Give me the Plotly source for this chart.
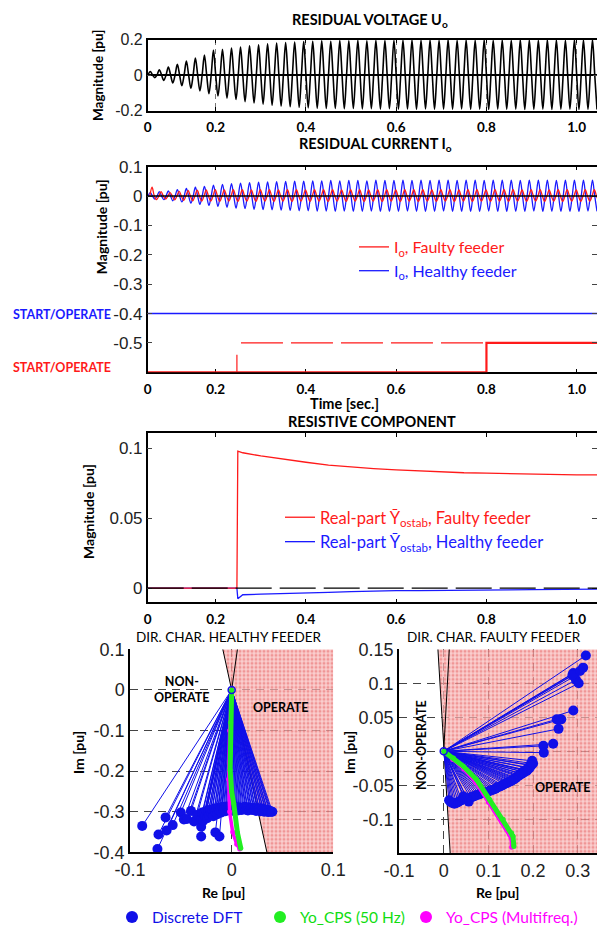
import plotly.graph_objects as go

W, H = 597, 927


def fx(p):
    return p / W


def fy(p):
    return 1 - p / H


# ------------------------------------------------------------------ data
T_START = 0.0493          # left edge of the time axes (labelled "0")
T_END = 1.045
TIME_TICKS = [T_START, 0.2, 0.4, 0.6, 0.8, 1.0]
TIME_LABELS = ["0", "0.2", "0.4", "0.6", "0.8", "1.0"]
HALF = 0.01               # half period of 50 Hz

P1_Y_TICKS = [-0.2, 0, 0.2]
P1_Y_LABELS = ["-0.2", "0", "0.2"]
P2_Y_TICKS = [-0.5, -0.4, -0.3, -0.2, -0.1, 0, 0.1]
P2_Y_LABELS = ["-0.5", "-0.4", "-0.3", "-0.2", "-0.1", "0", "0.1"]
P3_Y_TICKS = [0, 0.05, 0.1]
P3_Y_LABELS = ["0", "0.05", "0.1"]
H_X_TICKS = [-0.1, 0, 0.1]
H_X_LABELS = ["-0.1", "0", "0.1"]
H_Y_TICKS = [-0.4, -0.3, -0.2, -0.1, 0, 0.1]
H_Y_LABELS = ["-0.4", "-0.3", "-0.2", "-0.1", "0", "0.1"]
F_X_TICKS = [-0.1, 0, 0.1, 0.2, 0.3]
F_X_LABELS = ["-0.1", "0", "0.1", "0.2", "0.3"]
F_Y_TICKS = [-0.1, -0.05, 0, 0.05, 0.1, 0.15]
F_Y_LABELS = ["-0.1", "-0.05", "0", "0.05", "0.1", "0.15"]

# Residual voltage Uo: value of every positive / negative half-cycle peak
U0_T0 = 0.050
U0_POS = [0.020, 0.030, 0.045, 0.060, 0.078, 0.095, 0.112, 0.140, 0.145, 0.152,
          0.158, 0.165, 0.170, 0.176, 0.180, 0.183, 0.186, 0.188, 0.190, 0.192,
          0.190, 0.194, 0.192, 0.195, 0.193, 0.196, 0.194, 0.196, 0.195, 0.197,
          0.195, 0.197, 0.196, 0.198, 0.196, 0.197, 0.195, 0.198, 0.196, 0.197,
          0.196, 0.198, 0.197, 0.196, 0.198, 0.197, 0.196, 0.198, 0.197, 0.198]
U0_NEG = [-0.015, -0.030, -0.045, -0.060, -0.075, -0.090, -0.105, -0.118, -0.130, -0.138,
          -0.150, -0.158, -0.164, -0.170, -0.175, -0.179, -0.182, -0.185, -0.187, -0.189,
          -0.188, -0.190, -0.189, -0.191, -0.190, -0.192, -0.190, -0.192, -0.191, -0.193,
          -0.191, -0.193, -0.192, -0.193, -0.191, -0.193, -0.192, -0.194, -0.192, -0.193,
          -0.192, -0.194, -0.193, -0.192, -0.194, -0.193, -0.192, -0.194, -0.193, -0.194]

# Residual current Io, healthy feeder (blue) and faulty feeder (red)
IH_T0 = 0.050
IH_POS = [0.012, 0.015, 0.018, 0.022, 0.026, 0.030, 0.033, 0.037, 0.040, 0.042,
          0.044, 0.046, 0.047, 0.048, 0.049, 0.050, 0.051, 0.051, 0.052, 0.052,
          0.053, 0.052, 0.053, 0.053, 0.052, 0.054, 0.053, 0.053, 0.054, 0.053,
          0.054, 0.053, 0.054, 0.054, 0.053, 0.054, 0.054, 0.053, 0.054, 0.054,
          0.054, 0.053, 0.054, 0.054, 0.054, 0.053, 0.054, 0.054, 0.054, 0.054]
IH_NEG = [-0.010, -0.012, -0.016, -0.020, -0.024, -0.028, -0.032, -0.035, -0.038, -0.041,
          -0.043, -0.045, -0.046, -0.047, -0.048, -0.049, -0.050, -0.050, -0.051, -0.051,
          -0.052, -0.051, -0.052, -0.052, -0.051, -0.052, -0.052, -0.052, -0.051, -0.052,
          -0.052, -0.052, -0.051, -0.052, -0.052, -0.052, -0.052, -0.051, -0.052, -0.052,
          -0.052, -0.052, -0.051, -0.052, -0.052, -0.052, -0.052, -0.052, -0.051, -0.052]
IF_T0 = 0.054
IF_POS = [0.030, 0.015, 0.012, 0.016, 0.019, 0.020, 0.021, 0.022, 0.021, 0.022,
          0.022, 0.021, 0.022, 0.022, 0.021, 0.022, 0.022, 0.021, 0.022, 0.022,
          0.022, 0.021, 0.022, 0.022, 0.021, 0.022, 0.022, 0.021, 0.022, 0.022,
          0.022, 0.021, 0.022, 0.022, 0.021, 0.022, 0.022, 0.021, 0.022, 0.022,
          0.022, 0.021, 0.022, 0.022, 0.021, 0.022, 0.022, 0.021, 0.022, 0.022]
IF_NEG = [-0.012, -0.010, -0.013, -0.015, -0.016, -0.017, -0.017, -0.018, -0.017, -0.018,
          -0.017, -0.018, -0.017, -0.018, -0.017, -0.018, -0.017, -0.018, -0.017, -0.018,
          -0.017, -0.018, -0.017, -0.018, -0.017, -0.018, -0.017, -0.018, -0.017, -0.018,
          -0.017, -0.018, -0.017, -0.018, -0.017, -0.018, -0.017, -0.018, -0.017, -0.018,
          -0.017, -0.018, -0.017, -0.018, -0.017, -0.018, -0.017, -0.018, -0.017, -0.018]

# START / OPERATE signals (drawn at offset levels)
SO_H_T = [T_START, T_END]
SO_H_Y = [-0.4, -0.4]
OP_F_T = [T_START, 0.80, 0.80, T_END]
OP_F_Y = [-0.60, -0.60, -0.50, -0.50]
ST_F_T = [0.247, 0.247, None, 0.256, 0.80]
ST_F_Y = [-0.60, -0.54, None, -0.50, -0.50]

# Resistive component (real part of Yo_stab)
RES_T = [T_START, 0.247, 0.249, 0.26, 0.30, 0.35, 0.40, 0.45, 0.50, 0.55, 0.60,
         0.65, 0.70, 0.75, 0.80, 0.85, 0.90, 0.95, 1.00, T_END]
RES_F = [0.0, 0.0, 0.098, 0.0968, 0.0945, 0.092, 0.090, 0.088, 0.0865, 0.0855, 0.0846,
         0.0838, 0.0830, 0.0825, 0.0822, 0.0818, 0.0813, 0.0810, 0.0810, 0.0810]
RES_H = [0.0, 0.0, -0.0076, -0.0047, -0.0043, -0.0040, -0.0036, -0.0030, -0.0025, -0.0020,
         -0.0017, -0.0017, -0.0017, -0.0016, -0.0016, -0.0012, -0.0010, -0.0008, -0.0007, -0.0007]

# Directional characteristic, healthy feeder: discrete DFT end points
DFT_H_RE = [-0.088, -0.072, -0.073, -0.065, -0.064, -0.058, -0.050, -0.047, -0.044, -0.040,
            -0.037, -0.034, -0.030, -0.030, -0.016, -0.012,
            -0.030, -0.029, -0.028, -0.027, -0.026, -0.025, -0.024, -0.023, -0.022, -0.021,
            -0.020, -0.019, -0.018, -0.017, -0.016, -0.015, -0.014, -0.013, -0.012, -0.011,
            -0.010, -0.009, -0.008, -0.007, -0.006, -0.005, -0.004, -0.003, -0.002, -0.001,
            0.000, 0.001, 0.002, 0.003, 0.004, 0.005, 0.006, 0.007, 0.008, 0.009,
            0.010, 0.011, 0.012, 0.013, 0.014, 0.015, 0.016, 0.017, 0.018, 0.019,
            0.020, 0.021, 0.022, 0.023, 0.024, 0.025, 0.026, 0.027, 0.028, 0.029,
            0.030, 0.031, 0.032, 0.033, 0.034, 0.035, 0.036, 0.037, 0.038, 0.039, 0.040]
DFT_H_IM = [-0.335, -0.356, -0.392, -0.314, -0.346, -0.333, -0.302, -0.319, -0.318, -0.298,
            -0.324, -0.308, -0.337, -0.361, -0.351, -0.361,
            -0.318, -0.302, -0.322, -0.306, -0.312, -0.298, -0.316, -0.300, -0.309, -0.295,
            -0.303, -0.296, -0.311, -0.292, -0.300, -0.294, -0.306, -0.290, -0.298, -0.293,
            -0.302, -0.288, -0.296, -0.291, -0.299, -0.287, -0.294, -0.290, -0.297, -0.289,
            -0.295, -0.291, -0.298, -0.288, -0.294, -0.290, -0.297, -0.289, -0.295, -0.291,
            -0.296, -0.290, -0.293, -0.288, -0.295, -0.291, -0.297, -0.289, -0.294, -0.292,
            -0.296, -0.290, -0.295, -0.292, -0.298, -0.291, -0.296, -0.293, -0.299, -0.292,
            -0.297, -0.294, -0.300, -0.295, -0.298, -0.296, -0.301, -0.297, -0.299, -0.300, -0.300]
CPS50_H_RE = [0.000, -0.001, -0.0015, 0.000, 0.002, 0.0057, 0.009]
CPS50_H_IM = [0.000, -0.080, -0.197, -0.250, -0.279, -0.352, -0.390]
CPSMF_H_RE = [0.000, -0.002, -0.003, -0.002, 0.001, 0.005, 0.008]
CPSMF_H_IM = [0.000, -0.100, -0.220, -0.300, -0.350, -0.380, -0.392]

# Directional characteristic, faulty feeder
DFT_F_RE = [0.318, 0.312, 0.290, 0.296, 0.302, 0.292, 0.288, 0.305, 0.290, 0.253, 0.263,
            0.257, 0.245, 0.223, 0.224,
            0.200, 0.198, 0.196, 0.194, 0.192, 0.190, 0.187, 0.185, 0.182, 0.180,
            0.177, 0.175, 0.172, 0.170, 0.167, 0.165, 0.162, 0.160, 0.157, 0.155,
            0.152, 0.150, 0.146, 0.143, 0.140, 0.136, 0.132, 0.128, 0.124, 0.120,
            0.116, 0.112, 0.108, 0.104, 0.100, 0.096, 0.092, 0.088, 0.084, 0.080,
            0.076, 0.072, 0.068, 0.064, 0.060, 0.056, 0.052, 0.048, 0.044, 0.040,
            0.036, 0.032, 0.028, 0.024, 0.020, 0.016, 0.012]
DFT_F_IM = [0.141, 0.123, 0.115, 0.105, 0.100, 0.110, 0.112, 0.118, 0.060, 0.047, 0.047,
            0.033, 0.011, 0.008, -0.002,
            -0.018, -0.014, -0.021, -0.020, -0.025, -0.024, -0.028, -0.029, -0.028, -0.031,
            -0.030, -0.033, -0.033, -0.035, -0.036, -0.037, -0.039, -0.040, -0.041, -0.042,
            -0.043, -0.044, -0.045, -0.046, -0.047, -0.048, -0.050, -0.051, -0.052, -0.053,
            -0.055, -0.056, -0.057, -0.058, -0.059, -0.060, -0.061, -0.061, -0.062, -0.063,
            -0.064, -0.065, -0.066, -0.067, -0.068, -0.074, -0.069, -0.070, -0.066, -0.072,
            -0.073, -0.075, -0.076, -0.077, -0.076, -0.075, -0.072]
CPS50_F_RE = [0.000, 0.022, 0.044, 0.074, 0.103, 0.133, 0.152, 0.155, 0.157]
CPS50_F_IM = [0.000, -0.010, -0.022, -0.042, -0.071, -0.100, -0.120, -0.125, -0.140]
CPSMF_F_RE = [0.000, 0.020, 0.045, 0.072, 0.100, 0.130, 0.148, 0.151, 0.152]
CPSMF_F_IM = [0.000, -0.012, -0.026, -0.046, -0.075, -0.104, -0.123, -0.128, -0.141]

# Operate-sector boundaries (end points of the characteristic lines)
H_RANGE_X = [-0.1, 0.1]
H_RANGE_Y = [-0.4, 0.1]
F_RANGE_X = [-0.1, 0.343]
F_RANGE_Y = [-0.15, 0.15]
H_BND1 = ([-0.0087, 0.0347], [0.1, -0.4])
H_BND2 = ([0.0057, 0.0], [0.1, 0.0])
F_BND1 = ([-0.0129, 0.0145], [0.15, -0.15])
F_BND2 = ([0.0125, 0.0], [0.15, 0.0])

# ------------------------------------------------------------------ helpers
RED = "#ff1a1a"
BLUE = "#1a1aff"
GREEN = "#22ee22"
MAGENTA = "#ff00ff"
DFT_BLUE = "#1010e8"


def wave(t0, pos, neg):
    t, v = [], []
    for k, (p, n) in enumerate(zip(pos, neg)):
        base = t0 + 2 * HALF * k
        t += [base, base + HALF / 2, base + HALF, base + 1.5 * HALF]
        v += [0.0, p, 0.0, n]
    return t, v


def fan(re, im):
    x, y = [], []
    for a, b in zip(re, im):
        x += [0.0, a, None]
        y += [0.0, b, None]
    return x, y


fig = go.Figure()

# ---- panel 1: residual voltage
ut, uv = wave(U0_T0, U0_POS, U0_NEG)
fig.add_trace(go.Scatter(x=ut, y=uv, mode="lines", line=dict(color="black", width=1.6, shape="spline"),
                         xaxis="x", yaxis="y", showlegend=False, hoverinfo="skip"))

# ---- panel 2: residual currents + start/operate
ht, hv = wave(IH_T0, IH_POS, IH_NEG)
ft, fv = wave(IF_T0, IF_POS, IF_NEG)
fig.add_trace(go.Scatter(x=SO_H_T, y=SO_H_Y, mode="lines", line=dict(color=BLUE, width=1.5),
                         xaxis="x2", yaxis="y2", showlegend=False, hoverinfo="skip"))
fig.add_trace(go.Scatter(x=ST_F_T, y=ST_F_Y, mode="lines", line=dict(color=RED, width=1.2, dash="42px,8px"),
                         xaxis="x2", yaxis="y2", showlegend=False, hoverinfo="skip"))
fig.add_trace(go.Scatter(x=OP_F_T, y=OP_F_Y, mode="lines", line=dict(color=RED, width=2.2),
                         xaxis="x2", yaxis="y2", showlegend=False, hoverinfo="skip", cliponaxis=False))
fig.add_trace(go.Scatter(x=ht, y=hv, mode="lines", line=dict(color=BLUE, width=1.3, shape="spline"),
                         xaxis="x2", yaxis="y2", legend="legend2", legendrank=2,
                         name=f'<span style="color:{BLUE}">I<sub>o</sub>, Healthy feeder</span>'))
fig.add_trace(go.Scatter(x=ft, y=fv, mode="lines", line=dict(color=RED, width=1.3, shape="spline"),
                         xaxis="x2", yaxis="y2", legend="legend2", legendrank=1,
                         name=f'<span style="color:{RED}">I<sub>o</sub>, Faulty feeder</span>'))

# ---- panel 3: resistive component
fig.add_trace(go.Scatter(x=RES_T, y=RES_H, mode="lines", line=dict(color=BLUE, width=1.3),
                         xaxis="x3", yaxis="y3", legend="legend3", legendrank=2,
                         name=f'<span style="color:{BLUE}">Real-part \u0232<sub>ostab</sub>, Healthy feeder</span>'))
fig.add_trace(go.Scatter(x=RES_T, y=RES_F, mode="lines", line=dict(color=RED, width=1.3),
                         xaxis="x3", yaxis="y3", legend="legend3", legendrank=1,
                         name=f'<span style="color:{RED}">Real-part \u0232<sub>ostab</sub>, Faulty feeder</span>'))


# ---- bottom panels
def sector(xa, ya, bnd1, bnd2, rx, ry):
    px = [bnd1[0][0], rx[1], rx[1], bnd1[0][1]]
    py = [bnd1[1][0], ry[1], ry[0], bnd1[1][1]]
    fig.add_trace(go.Scatter(x=px, y=py, fill="toself", mode="none",
                             fillcolor="rgba(244,160,160,0.6)",
                             fillpattern=dict(shape=".", fgcolor="rgba(226,64,64,0.8)",
                                              bgcolor="rgba(248,186,186,0.7)", size=4, solidity=0.45),
                             xaxis=xa, yaxis=ya, showlegend=False, hoverinfo="skip"))
    for b in (bnd1, bnd2):
        fig.add_trace(go.Scatter(x=b[0], y=b[1], mode="lines", line=dict(color="black", width=1),
                                 xaxis=xa, yaxis=ya, showlegend=False, hoverinfo="skip"))


def dir_char(xa, ya, dre, dim, g_re, g_im, m_re, m_im, legend):
    lx, ly = fan(dre, dim)
    fig.add_trace(go.Scatter(x=lx, y=ly, mode="lines", line=dict(color=DFT_BLUE, width=1),
                             xaxis=xa, yaxis=ya, showlegend=False, hoverinfo="skip"))
    fig.add_trace(go.Scatter(x=dre, y=dim, mode="markers", marker=dict(color=DFT_BLUE, size=10),
                             xaxis=xa, yaxis=ya, showlegend=legend, legend="legend",
                             name=f'<span style="color:{DFT_BLUE}">Discrete DFT</span>'))
    fig.add_trace(go.Scatter(x=m_re, y=m_im, mode="lines", line=dict(color=MAGENTA, width=3.5),
                             xaxis=xa, yaxis=ya, showlegend=False, hoverinfo="skip"))
    fig.add_trace(go.Scatter(x=m_re, y=m_im, mode="markers", marker=dict(color=MAGENTA, size=5),
                             xaxis=xa, yaxis=ya, showlegend=legend, legend="legend5",
                             name=f'<span style="color:{MAGENTA}">Yo_CPS (Multifreq.)</span>'))
    fig.add_trace(go.Scatter(x=g_re, y=g_im, mode="lines", line=dict(color=GREEN, width=5),
                             xaxis=xa, yaxis=ya, showlegend=False, hoverinfo="skip"))
    fig.add_trace(go.Scatter(x=g_re, y=g_im, mode="markers", marker=dict(color=GREEN, size=5),
                             xaxis=xa, yaxis=ya, showlegend=legend, legend="legend4",
                             name='<span style="color:#11dd11">Yo_CPS (50 Hz)</span>'))
    fig.add_trace(go.Scatter(x=[0], y=[0], mode="markers",
                             marker=dict(color="rgba(0,0,0,0)", size=7, line=dict(color=DFT_BLUE, width=1.5)),
                             xaxis=xa, yaxis=ya, showlegend=False, hoverinfo="skip"))


sector("x4", "y4", H_BND1, H_BND2, H_RANGE_X, H_RANGE_Y)
dir_char("x4", "y4", DFT_H_RE, DFT_H_IM, CPS50_H_RE, CPS50_H_IM, CPSMF_H_RE, CPSMF_H_IM, True)
sector("x5", "y5", F_BND1, F_BND2, F_RANGE_X, F_RANGE_Y)
dir_char("x5", "y5", DFT_F_RE, DFT_F_IM, CPS50_F_RE, CPS50_F_IM, CPSMF_F_RE, CPSMF_F_IM, False)

# ------------------------------------------------------------------ axes
NUM_FONT = "Liberation Sans, Arial, sans-serif"
TICK_NUM = dict(family=NUM_FONT, size=17, color="#222")
TICK_BOLD = dict(family="Lato", size=13.5, color="black", weight="bold")


def time_x(dom_anchor, standoff):
    return dict(domain=[fx(147.7), 1.0], range=[T_START, T_END], anchor=dom_anchor,
                tickvals=TIME_TICKS, ticktext=TIME_LABELS, ticks="inside", ticklen=4,
                tickcolor="black", showline=True, linecolor="black", linewidth=1.5,
                mirror="ticks", tickfont=TICK_BOLD, zeroline=False, showgrid=False,
                ticklabelstandoff=standoff)


def dir_axis(dom, rng, vals, labels, anchor):
    return dict(domain=dom, range=rng, tickvals=vals, ticktext=labels, anchor=anchor, showline=True,
                linecolor="black", linewidth=1.5, ticks="", zeroline=False, showgrid=True,
                gridcolor="#444", griddash="8px,6px", gridwidth=1.2,
                tickfont=dict(family=NUM_FONT, size=18, color="#222"))


LEG = dict(bgcolor="rgba(0,0,0,0)", font=dict(family="Lato", size=15.5), orientation="h",
           itemsizing="constant", xanchor="left", yanchor="middle", y=fy(917.5))

fig.update_layout(
    width=W, height=H, margin=dict(l=0, r=0, t=0, b=0, autoexpand=False),
    paper_bgcolor="white", plot_bgcolor="white",
    xaxis=dict(time_x("y", 4), showgrid=True, gridcolor="#777", griddash="5px,4px", gridwidth=1),
    yaxis=dict(domain=[fy(110.5), fy(39.5)], range=[-0.2, 0.2], tickvals=P1_Y_TICKS, ticktext=P1_Y_LABELS,
               anchor="x", ticks="inside", ticklen=4, showline=True, linecolor="black", linewidth=1.5,
               mirror="ticks", zeroline=True, zerolinecolor="black", zerolinewidth=1.5, showgrid=False,
               tickfont=dict(family=NUM_FONT, size=16, color="#222")),
    xaxis2=dict(time_x("y2", 4), layer="below traces"),
    yaxis2=dict(domain=[fy(372.3), fy(166.7)], range=[-0.6, 0.1], tickvals=P2_Y_TICKS, ticktext=P2_Y_LABELS,
                anchor="x2", ticks="inside", ticklen=5, showline=True, linecolor="black", linewidth=1.5,
                mirror="ticks", zeroline=False, showgrid=False, tickfont=TICK_NUM),
    xaxis3=time_x("y3", 4),
    yaxis3=dict(domain=[fy(602.3), fy(433.3)], range=[-0.0101, 0.1107], tickvals=P3_Y_TICKS,
                ticktext=P3_Y_LABELS, anchor="x3", ticks="inside", ticklen=5, showline=True,
                linecolor="black", linewidth=1.5, mirror="ticks", zeroline=False, showgrid=False,
                tickfont=TICK_NUM),
    xaxis4=dir_axis([fx(130), fx(333.3)], H_RANGE_X, H_X_TICKS, H_X_LABELS, "y4"),
    yaxis4=dir_axis([fy(852.3), fy(649.3)], H_RANGE_Y, H_Y_TICKS, H_Y_LABELS, "x4"),
    xaxis5=dir_axis([fx(399), 1.0], F_RANGE_X, F_X_TICKS, F_X_LABELS, "y5"),
    yaxis5=dir_axis([fy(853.3), fy(649.3)], F_RANGE_Y, F_Y_TICKS, F_Y_LABELS, "x5"),
    legend=dict(LEG, x=fx(112)),
    legend4=dict(LEG, x=fx(260)),
    legend5=dict(LEG, x=fx(406)),
    legend2=dict(x=fx(354), y=fy(230), xanchor="left", yanchor="top", bgcolor="rgba(0,0,0,0)",
                 font=dict(family="Lato", size=16), tracegroupgap=0),
    legend3=dict(x=fx(280), y=fy(500), xanchor="left", yanchor="top", bgcolor="rgba(0,0,0,0)",
                 font=dict(family="Lato", size=16.5), tracegroupgap=0),
)

# zero lines drawn above the traces
fig.add_shape(type="line", xref="x2 domain", yref="y2", x0=0, x1=1, y0=0, y1=0,
              line=dict(color="black", width=1.5), layer="above")
fig.add_shape(type="line", xref="x3 domain", yref="y3", x0=0, x1=1, y0=0, y1=0,
              line=dict(color="black", width=1.3, dash="36px,8px"), layer="above")


# ------------------------------------------------------------------ text
def note(text, x, y, size, angle=0, color="black", weight="bold", family="Lato"):
    fig.add_annotation(text=text, x=fx(x), y=fy(y), xref="paper", yref="paper", showarrow=False,
                       xanchor="center", yanchor="middle", textangle=angle,
                       font=dict(family=family, size=size, color=color, weight=weight))


note("RESIDUAL VOLTAGE U<sub>o</sub>", 370, 20, 14.5)
note("RESIDUAL CURRENT I<sub>o</sub>", 375, 145, 14.5)
note("RESISTIVE COMPONENT", 372, 421, 14.5)
note("Time [sec.]", 345, 403, 14.5)
note("Magnitude [pu]", 98, 76, 13.5, angle=-90)
note("Magnitude [pu]", 101.5, 226.7, 14, angle=-90)
note("Magnitude [pu]", 89, 512, 14, angle=-90)
note("START/OPERATE", 62, 314, 12.5, color=BLUE)
note("START/OPERATE", 62, 367, 12.5, color=RED)
note("DIR. CHAR. HEALTHY FEEDER", 229, 637, 13.5, weight="normal")
note("DIR. CHAR. FAULTY FEEDER", 494, 637, 13.5, weight="normal")
note("Im [pu]", 78, 753, 14, angle=-90)
note("Im [pu]", 349, 753, 14, angle=-90)
note("Re [pu]", 223, 892, 14)
note("Re [pu]", 497, 892, 14)
note("NON-<br>OPERATE", 182, 689, 12.5)
note("OPERATE", 281, 707, 12.5)
note("OPERATE", 563, 787, 12.5)
note("NON-OPERATE", 421, 745, 12.5, angle=-90)

fig.write_html("out.html", post_script="document.body.style.margin='0px';")
